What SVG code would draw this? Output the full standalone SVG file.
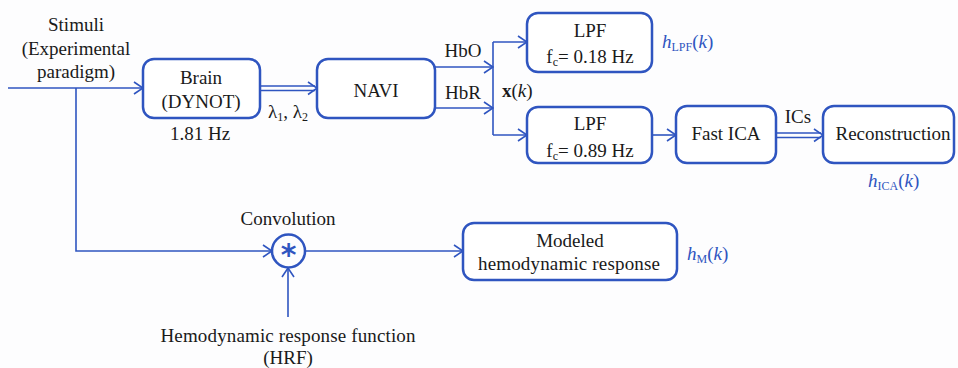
<svg xmlns="http://www.w3.org/2000/svg" width="958" height="368" viewBox="0 0 958 368">
<defs>
<style>
.box{fill:#fff;stroke:#2f55c0;stroke-width:2.5}
.ln{fill:none;stroke:#2f55c0;stroke-width:1.6}
.t{font-family:"Liberation Serif",serif;font-size:19px;fill:#1a1a1a;text-anchor:middle}
.b{font-family:"Liberation Serif",serif;font-size:19px;fill:#2f55c0}
</style>
<marker id="ar" markerUnits="userSpaceOnUse" markerWidth="12" markerHeight="14" refX="11" refY="7" orient="auto">
<path d="M2,1 L11,7 L2,13" fill="none" stroke="#2f55c0" stroke-width="1.6"/>
</marker>
</defs>
<rect width="958" height="368" fill="#fdfdfe"/>
<g id="connectors">
<line class="ln" x1="8" y1="88" x2="143" y2="88" marker-end="url(#ar)"/>
<polyline class="ln" points="76,88 76,251 272,251" marker-end="url(#ar)"/>
<line class="ln" x1="260" y1="86" x2="315" y2="86"/>
<line class="ln" x1="260" y1="90.5" x2="315" y2="90.5"/>
<path class="ln" d="M308,82 L317,88.2 L308,94.5"/>
<line class="ln" x1="435" y1="67" x2="493" y2="67" marker-end="url(#ar)"/>
<line class="ln" x1="435" y1="108" x2="493" y2="108" marker-end="url(#ar)"/>
<line class="ln" x1="493" y1="42" x2="493" y2="135"/>
<line class="ln" x1="493" y1="42" x2="527" y2="42" marker-end="url(#ar)"/>
<line class="ln" x1="493" y1="135" x2="527" y2="135" marker-end="url(#ar)"/>
<line class="ln" x1="652" y1="135" x2="676" y2="135" marker-end="url(#ar)"/>
<line class="ln" x1="776" y1="133" x2="821" y2="133"/>
<line class="ln" x1="776" y1="137.5" x2="821" y2="137.5"/>
<path class="ln" d="M814,129 L823,135.2 L814,141.5"/>
<line class="ln" x1="305" y1="251" x2="463" y2="251" marker-end="url(#ar)"/>
<line class="ln" x1="288" y1="317" x2="288" y2="268" marker-end="url(#ar)"/>
</g>
<g id="stimuli">
<text class="t" x="76" y="31">Stimuli</text>
<text class="t" x="76" y="55">(Experimental</text>
<text class="t" x="76" y="78">paradigm)</text>
</g>
<g id="brain">
<rect class="box" x="143" y="59" width="117" height="59" rx="11"/>
<text class="t" x="201" y="84">Brain</text>
<text class="t" x="201" y="108">(DYNOT)</text>
<text class="t" x="200" y="140">1.81 Hz</text>
</g>
<g id="lambda">
<text class="t" x="288" y="118" style="text-anchor:middle">λ<tspan font-size="12" dy="3">1</tspan><tspan dy="-3">, λ</tspan><tspan font-size="12" dy="3">2</tspan></text>
</g>
<g id="navi">
<rect class="box" x="317" y="59" width="118" height="59" rx="11"/>
<text class="t" x="376" y="97">NAVI</text>
</g>
<g id="labels">
<text class="t" x="463" y="57">HbO</text>
<text class="t" x="463" y="99">HbR</text>
<text class="t" x="502" y="97" style="text-anchor:start"><tspan font-weight="bold">x</tspan>(<tspan font-style="italic">k</tspan>)</text>
<text class="t" x="798" y="123">ICs</text>
</g>
<g id="lpf1">
<rect class="box" x="527" y="13" width="125" height="59" rx="11"/>
<text class="t" x="590" y="37">LPF</text>
<text class="t" x="590" y="63">f<tspan font-size="12" dy="3">c</tspan><tspan dy="-3">= 0.18 Hz</tspan></text>
<text class="b" x="662" y="48"><tspan font-style="italic">h</tspan><tspan font-size="12" dy="3">LPF</tspan><tspan dy="-3">(</tspan><tspan font-style="italic">k</tspan>)</text>
</g>
<g id="lpf2">
<rect class="box" x="527" y="107" width="125" height="56" rx="11"/>
<text class="t" x="590" y="130">LPF</text>
<text class="t" x="590" y="157">f<tspan font-size="12" dy="3">c</tspan><tspan dy="-3">= 0.89 Hz</tspan></text>
</g>
<g id="fastica">
<rect class="box" x="676" y="106" width="100" height="57" rx="11"/>
<text class="t" x="726" y="140">Fast ICA</text>
</g>
<g id="reconstruction">
<rect class="box" x="823" y="106" width="131" height="57" rx="11"/>
<text class="t" x="893" y="140">Reconstruction</text>
<text class="b" x="868" y="187"><tspan font-style="italic">h</tspan><tspan font-size="12" dy="3">ICA</tspan><tspan dy="-3">(</tspan><tspan font-style="italic">k</tspan>)</text>
</g>
<g id="convolution">
<circle cx="288.5" cy="251" r="16.5" fill="none" stroke="#2f55c0" stroke-width="2.5"/>
<text x="288.5" y="265" style="font-family:'DejaVu Sans',sans-serif;font-size:30px;font-weight:bold;fill:#2f55c0;text-anchor:middle">*</text>
<text class="t" x="288" y="225">Convolution</text>
</g>
<g id="hrf">
<text class="t" x="288" y="342" textLength="255" lengthAdjust="spacing">Hemodynamic response function</text>
<text class="t" x="288" y="364">(HRF)</text>
</g>
<g id="modeled">
<rect class="box" x="463" y="223" width="214" height="57" rx="11"/>
<text class="t" x="570" y="247">Modeled</text>
<text class="t" x="569" y="270" textLength="182" lengthAdjust="spacing">hemodynamic response</text>
<text class="b" x="687" y="260"><tspan font-style="italic">h</tspan><tspan font-size="12" dy="3">M</tspan><tspan dy="-3">(</tspan><tspan font-style="italic">k</tspan>)</text>
</g>
</svg>
